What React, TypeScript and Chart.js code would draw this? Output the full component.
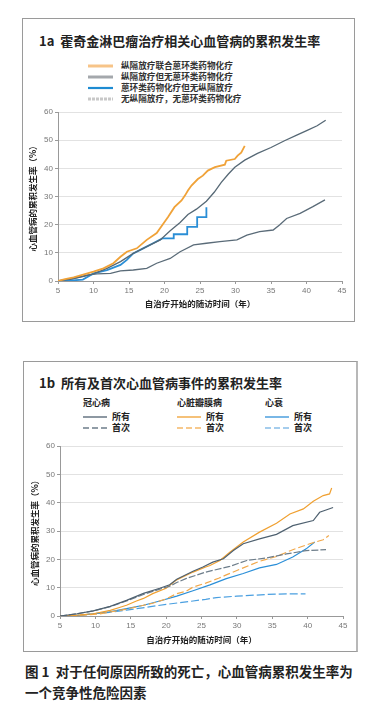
import React, { useEffect, useRef } from "react";
import { Chart, registerables } from "chart.js";
Chart.register(...registerables);

const CJK = '"Noto Sans CJK SC", "Noto Sans", sans-serif';
const TICKF = '"Liberation Sans", "DejaVu Sans", sans-serif';

// ---------- axes ----------
const xTickVals = [5, 10, 15, 20, 25, 30, 35, 40, 45];
const yTickVals = [0, 10, 20, 30, 40, 50, 60];
const xTitle = "自治疗开始的随访时间（年）";
const yTitle = "心血管病的累积发生率（%）";

// ---------- 1a data ----------
const a1Labels = [
  "纵隔放疗联合蒽环类药物化疗",
  "纵隔放疗但无蒽环类药物化疗",
  "蒽环类药物化疗但无纵隔放疗",
  "无纵隔放疗，无蒽环类药物化疗",
];
const a1OrangeT = [5, 6, 7.2, 8.3, 10, 11.4, 12.8, 13.8, 14.7, 16.1, 17.5, 18.9, 19.7, 20.5, 21.4, 22.4, 22.9, 23.3, 23.8, 24.7, 25.4, 26.1, 27.1, 28.5, 28.7, 29.9, 30.3, 30.8, 31.3];
const a1OrangeV = [0, 0.7, 1.3, 2.1, 3.3, 4.5, 6.3, 8.6, 10.4, 11.6, 14.6, 17, 19.9, 22.7, 26.2, 28.6, 30.4, 32.1, 33.9, 36.2, 37.4, 39.2, 40.4, 41.3, 42.7, 43.3, 44.5, 45.6, 48.0];
const a1GrayT = [5, 7, 8.5, 10, 11.9, 13.8, 15.6, 17.5, 19.4, 20.8, 22.2, 23.3, 24.5, 25.9, 27, 28, 29, 29.9, 31.3, 33.1, 35, 36.9, 38.7, 40.1, 41.5, 42.7];
const a1GrayV = [0, 0.8, 1.6, 2.5, 4.5, 6.9, 9.8, 12.2, 14.6, 17.8, 20.8, 23.6, 25.5, 28.3, 31.5, 35, 38, 40.4, 42.9, 45.3, 47.4, 49.8, 51.9, 53.5, 55.1, 57.1];
const a1BlueT = [5, 6.5, 8.5, 9.2, 10, 11.9, 13.8, 14.7, 15.6, 17, 18.4, 19.7, 21.3, 21.3, 23.2, 23.2, 24.6, 24.6, 25.9, 25.9];
const a1BlueV = [0, 0.1, 0.5, 1.5, 2.7, 3.9, 5.7, 7.5, 9.8, 11.6, 13.4, 15.1, 15.1, 16.6, 16.6, 19.2, 19.2, 22.7, 22.7, 26.2];
const a1NoneT = [5, 6.7, 9.1, 10.5, 12.4, 13.8, 15.6, 17.5, 18.9, 20.8, 22.2, 24.1, 25.9, 27.8, 30.2, 31.6, 33.4, 35.3, 36.2, 37.2, 39.1, 40.9, 42.6];
const a1NoneV = [0, 0.6, 2.1, 2.5, 2.7, 3.6, 3.9, 4.5, 6.3, 8.0, 10.4, 12.8, 13.4, 14.0, 14.6, 16.3, 17.5, 18.1, 19.9, 22.2, 24, 26.4, 28.8];

// ---------- 1b data ----------
const b1Groups = ["冠心病", "心脏瓣膜病", "心衰"];
const b1Kinds = ["所有", "首次"];
const chdAllT = [5, 7.4, 9.7, 12.1, 14.4, 16.8, 19.1, 20.5, 21.5, 23.8, 25.2, 26.6, 28.1, 29.5, 30.9, 33.2, 35.6, 37.9, 40.8, 41.7, 42.6, 43.6];
const chdAllV = [0, 0.8, 1.8, 3.4, 5.5, 8.0, 9.8, 11.0, 13.0, 15.8, 17.3, 19.0, 20.2, 23.1, 25.5, 27.2, 28.8, 31.9, 33.7, 36.6, 37.4, 38.3];
const chdFirstT = [5, 7.4, 9.7, 12.1, 14.4, 16.8, 19.1, 20.5, 21.5, 22.8, 25.6, 26.6, 29, 31.4, 34.2, 37, 39.8, 42.6];
const chdFirstV = [0, 0.8, 1.8, 3.3, 5.3, 7.6, 9.5, 10.5, 11.8, 13.2, 15.5, 16.1, 17.5, 19.6, 20.5, 21.9, 23.1, 23.4];
const vhdAllT = [5, 7.5, 9.7, 12.1, 13.4, 14.4, 15.8, 16.8, 18.1, 20, 21.4, 23.8, 25.6, 26.2, 27.6, 29, 30.9, 33.2, 35.6, 37.5, 39.4, 40.8, 42.2, 43.1, 43.4];
const vhdAllV = [0, 0.3, 0.8, 2.0, 3.0, 3.8, 5.3, 6.2, 7.9, 9.8, 12.6, 15.5, 17.3, 17.8, 19.6, 22.5, 26.1, 29.6, 32.7, 36, 37.8, 40.5, 42.5, 43.1, 45.2];
const vhdFirstT = [5, 8, 10.5, 12.1, 14.4, 16.8, 18.1, 20, 21.4, 22.8, 23.8, 25.6, 27.5, 28.5, 30.9, 33.2, 35.6, 37.9, 40.3, 42.2, 43];
const vhdFirstV = [0, 0.3, 0.7, 1.4, 2.4, 3.8, 4.5, 6.0, 7.8, 8.7, 10.2, 11.6, 13.4, 14.5, 17.0, 19.3, 21, 23.4, 25.5, 26.9, 28.4];
const hfAllT = [5, 8, 9.7, 12, 14.4, 16.8, 19.1, 21.5, 23.8, 26.2, 28.5, 30.9, 33.2, 35.6, 37.9, 39.8, 41];
const hfAllV = [0, 0.3, 0.8, 1.5, 2.6, 3.8, 5.3, 7.0, 8.9, 11.0, 13.2, 15.0, 17.0, 18.2, 20.8, 23.7, 26.1];
const hfFirstT = [5, 8, 9.7, 12, 14.4, 17, 20, 23.8, 25.6, 27.1, 30, 34.2, 37, 39.7];
const hfFirstV = [0, 0.3, 0.8, 1.3, 2.1, 3.0, 4.1, 5.3, 5.9, 6.5, 7.0, 7.6, 7.8, 7.8];

type Series = { label: string; t: number[]; v: number[]; color: string; width: number; dash?: number[] };

const seriesA: Series[] = [
  { label: a1Labels[0], t: a1OrangeT, v: a1OrangeV, color: "#f0a238", width: 1.8 },
  { label: a1Labels[1], t: a1GrayT, v: a1GrayV, color: "#566875", width: 1.3 },
  { label: a1Labels[2], t: a1BlueT, v: a1BlueV, color: "#2a8ed6", width: 1.8 },
  { label: a1Labels[3], t: a1NoneT, v: a1NoneV, color: "#5a6b78", width: 1.3 },
];
const seriesB: Series[] = [
  { label: b1Groups[0] + b1Kinds[0], t: chdAllT, v: chdAllV, color: "#4f6170", width: 1.2 },
  { label: b1Groups[0] + b1Kinds[1], t: chdFirstT, v: chdFirstV, color: "#6d7d8a", width: 1.2, dash: [7, 2] },
  { label: b1Groups[1] + b1Kinds[0], t: vhdAllT, v: vhdAllV, color: "#f0a030", width: 1.2 },
  { label: b1Groups[1] + b1Kinds[1], t: vhdFirstT, v: vhdFirstV, color: "#f2a84a", width: 1.2, dash: [7, 3] },
  { label: b1Groups[2] + b1Kinds[0], t: hfAllT, v: hfAllV, color: "#2b8fd8", width: 1.2 },
  { label: b1Groups[2] + b1Kinds[1], t: hfFirstT, v: hfFirstV, color: "#4a9fe0", width: 1.2, dash: [8, 3] },
];

type PlotProps = {
  series: Series[];
  left: number; top: number; width: number; height: number;
  yAxisWidth: number; xAxisHeight: number; padTop: number; padRight: number;
  xTitlePad: number; yTitlePad: number;
};

function Plot(p: PlotProps) {
  const ref = useRef<HTMLCanvasElement>(null);
  useEffect(() => {
    const chart = new Chart(ref.current!, {
      type: "line",
      data: {
        datasets: p.series.map((s) => ({
          label: s.label,
          data: s.t.map((x, i) => ({ x, y: s.v[i] })),
          borderColor: s.color,
          backgroundColor: s.color,
          borderWidth: s.width,
          borderDash: s.dash ?? [],
          pointRadius: 0,
          fill: false,
          tension: 0,
        })),
      },
      options: {
        responsive: false,
        animation: false,
        layout: { padding: { top: p.padTop, right: p.padRight, left: 0, bottom: 0 } },
        plugins: { legend: { display: false }, tooltip: { enabled: false }, title: { display: false } },
        scales: {
          x: {
            type: "linear",
            min: xTickVals[0],
            max: xTickVals[xTickVals.length - 1],
            ticks: { stepSize: 5, padding: 2, color: "#777", font: { family: TICKF, size: 8 }, maxRotation: 0, autoSkip: false },
            grid: { drawOnChartArea: false, tickLength: 3, tickColor: "#999" },
            border: { color: "#999", width: 1 },
            title: { display: true, text: xTitle, color: "#222", font: { family: CJK, size: 8.5, weight: "bold" }, padding: { top: 0, bottom: p.xTitlePad } },
            afterFit: (s: any) => { s.height = p.xAxisHeight; },
          },
          y: {
            type: "linear",
            min: yTickVals[0],
            max: yTickVals[yTickVals.length - 1],
            ticks: { stepSize: 10, padding: 2, color: "#777", font: { family: TICKF, size: 8 } },
            grid: { color: "#e2e2e2", tickLength: 3, tickColor: "#999" },
            border: { color: "#999", width: 1 },
            title: { display: true, text: yTitle, color: "#222", font: { family: CJK, size: 8.5, weight: "bold" }, padding: { top: p.yTitlePad, bottom: 0 } },
            afterFit: (s: any) => { s.width = p.yAxisWidth; },
          },
        },
      } as any,
    });
    return () => chart.destroy();
  }, []);
  return (
    <canvas
      ref={ref}
      width={p.width}
      height={p.height}
      style={{ position: "absolute", left: p.left, top: p.top, width: p.width, height: p.height }}
    />
  );
}

function Txt({ x, y, size, children, weight = 700, color = "#222" }: any) {
  return (
    <div
      style={{
        position: "absolute",
        left: x,
        top: y - size * 0.65,
        fontSize: size,
        lineHeight: `${size * 1.3}px`,
        fontFamily: CJK,
        fontWeight: weight,
        color,
        whiteSpace: "pre",
      }}
    >
      {children}
    </div>
  );
}

function LegLine({ x1, x2, y, color, w, dash }: any) {
  return (
    <svg style={{ position: "absolute", left: x1, top: y - 3, overflow: "visible" }} width={x2 - x1} height={6}>
      <line x1={0} y1={3} x2={x2 - x1} y2={3} stroke={color} strokeWidth={w} strokeDasharray={dash ? dash.join(",") : undefined} />
    </svg>
  );
}

export default function App() {
  const legA = [
    { color: "#f7c488", w: 3 },
    { color: "#a4a8ac", w: 3 },
    { color: "#1e8bd2", w: 2.2 },
    { color: "#c8c8c8", w: 3, dash: [3, 1] },
  ];
  const legAy = [66, 77, 88, 99];
  const colX = [83, 177, 265];
  const legB = [
    ["#4f6170", "#6d7d8a"],
    ["#f0a030", "#f5b868"],
    ["#3090d8", "#88bde8"],
  ];
  return (
    <div style={{ position: "absolute", left: 0, top: 0, width: 373, height: 722, background: "#fff" }}>
      {/* box 1a */}
      <div style={{ position: "absolute", left: 22, top: 18, width: 333, height: 304, border: "1px solid #9a9a9a", boxSizing: "border-box" }} />
      <Txt x={39} y={41} size={13}>{"1a  霍奇金淋巴瘤治疗相关心血管病的累积发生率"}</Txt>
      {a1Labels.map((l, i) => (
        <React.Fragment key={l}>
          <LegLine x1={88} x2={113} y={legAy[i]} color={legA[i].color} w={legA[i].w} dash={legA[i].dash} />
          <Txt x={121} y={legAy[i]} size={8.6} color="#333">{l}</Txt>
        </React.Fragment>
      ))}
      <Plot series={seriesA} left={23} top={100} width={331} height={218} yAxisWidth={35} xAxisHeight={37} padTop={12} padRight={12} xTitlePad={8.9} yTitlePad={4.9} />

      {/* box 1b */}
      <div style={{ position: "absolute", left: 23, top: 361, width: 335, height: 291, border: "1px solid #9a9a9a", borderRightWidth: 2, borderRightColor: "#b8b8b8", boxSizing: "border-box" }} />
      <Txt x={39} y={383} size={13}>{"1b  所有及首次心血管病事件的累积发生率"}</Txt>
      {b1Groups.map((g, gi) => (
        <React.Fragment key={g}>
          <Txt x={colX[gi]} y={403} size={9}>{g}</Txt>
          {b1Kinds.map((k, ki) => (
            <React.Fragment key={k}>
              <LegLine x1={colX[gi]} x2={colX[gi] + 24} y={ki === 0 ? 416.7 : 428.3} color={legB[gi][ki]} w={1.3} dash={ki === 1 ? [6, 3] : undefined} />
              <Txt x={colX[gi] + 29} y={ki === 0 ? 416.7 : 428.3} size={9}>{k}</Txt>
            </React.Fragment>
          ))}
        </React.Fragment>
      ))}
      <Plot series={seriesB} left={24} top={435} width={330} height={215} yAxisWidth={36} xAxisHeight={34} padTop={11} padRight={11} xTitlePad={5.6} yTitlePad={5.9} />

      {/* caption */}
      <Txt x={25} y={672} size={13.5}>{"图 1  对于任何原因所致的死亡，心血管病累积发生率为"}</Txt>
      <Txt x={25} y={693} size={13.5}>{"一个竞争性危险因素"}</Txt>
    </div>
  );
}
